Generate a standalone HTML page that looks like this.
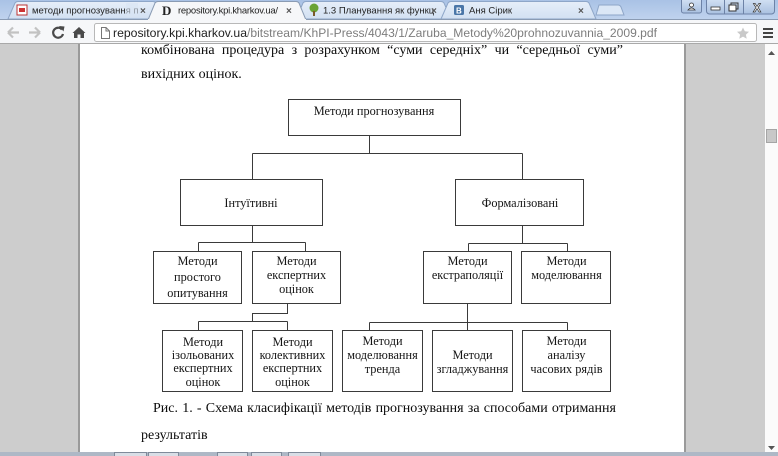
<!DOCTYPE html>
<html><head><meta charset="utf-8">
<style>
html,body{margin:0;padding:0}
body{width:778px;height:456px;overflow:hidden;position:relative;background:#fff;font-family:"Liberation Sans",sans-serif}
svg{position:absolute;left:0;top:0}
.ln{position:absolute;font-family:"Liberation Serif","Noto Serif CJK SC",serif;font-size:14px;line-height:16px;color:#0a0a0a;white-space:nowrap}
.jus{display:flex;justify-content:space-between}
</style></head>
<body>
<svg width="778" height="456" viewBox="0 0 778 456" xmlns="http://www.w3.org/2000/svg">
  <defs>
    <linearGradient id="fr" x1="0" y1="0" x2="0" y2="1">
      <stop offset="0" stop-color="#a9c2e5"/><stop offset="1" stop-color="#c0d3ee"/>
    </linearGradient>
    <linearGradient id="it" x1="0" y1="0" x2="0" y2="1">
      <stop offset="0" stop-color="#e6eef9"/><stop offset="1" stop-color="#d2e0f2"/>
    </linearGradient>
    <linearGradient id="wb" x1="0" y1="0" x2="0" y2="1">
      <stop offset="0" stop-color="#d5e3f5"/><stop offset="1" stop-color="#a9c0e0"/>
    </linearGradient>
  </defs>

  <!-- frame / tab strip -->
  <rect x="0" y="0" width="778" height="20" fill="url(#fr)"/>
  <!-- inactive tabs -->
  <path d="M8 19 L15 3 Q16 1.5 18 1.5 L153 1.5 Q155 1.5 156 3 L163 19 Z" fill="url(#it)" stroke="#8ea6c8"/>
  <path d="M296 19 L303 3 Q304 1.5 306 1.5 L441 1.5 Q443 1.5 444 3 L451 19 Z" fill="url(#it)" stroke="#8ea6c8"/>
  <path d="M441 19 L448 3 Q449 1.5 451 1.5 L586 1.5 Q588 1.5 589 3 L596 19 Z" fill="url(#it)" stroke="#8ea6c8"/>
  <!-- new tab -->
  <path d="M596 15 L599 5 L618 5 Q620 5 621 7 L624 15 Z" fill="#dbe7f6" stroke="#8ea6c8"/>
  <!-- active tab -->
  <path d="M148 20 L155 3 Q156 1.5 158 1.5 L296 1.5 Q298 1.5 299 3 L306 20 Z" fill="#f6f7f9" stroke="#8a9bb3"/>

  <!-- tab icons -->
  <rect x="17" y="5" width="10" height="10" fill="#fff" stroke="#b33"/>
  <rect x="19" y="8" width="6" height="4" fill="#c33"/>
  <text x="162" y="15" font-family="Liberation Serif,serif" font-size="13" font-weight="bold" fill="#222">D</text>
  <circle cx="314" cy="8" r="4.5" fill="#6aa334"/><rect x="313" y="11" width="2" height="5" fill="#7a5a2a"/>
  <rect x="454" y="5" width="10" height="10" rx="1.5" fill="#4a76a8"/>
  <text x="456" y="13.5" font-size="8" font-weight="bold" fill="#fff">B</text>

  <!-- tab labels -->
  <text x="32" y="13.5" font-size="9.5" fill="#222">методи прогнозування п</text>
  <rect x="126" y="3" width="12" height="14" fill="#d8e4f3" opacity="0.6"/>
  <text x="178" y="13.5" font-size="9.5" fill="#222" textLength="100">repository.kpi.kharkov.ua/</text>
  <text x="323" y="13.5" font-size="9.5" fill="#222">1.3 Планування як функц</text>
  <text x="469" y="13.5" font-size="9.5" fill="#222">Аня Сірик</text>
  <g font-size="10" font-weight="bold" fill="#555">
    <text x="140" y="14">×</text><text x="286" y="14">×</text><text x="431" y="14">×</text><text x="578" y="14">×</text>
  </g>

  <!-- window controls -->
  <rect x="681.5" y="-2" width="20" height="15" rx="2" fill="url(#wb)" stroke="#6d82a6"/>
  <circle cx="691.5" cy="5" r="2" fill="#fff" stroke="#333" stroke-width="0.8"/>
  <path d="M688 10 Q691.5 6 695 10 Z" fill="#fff" stroke="#333" stroke-width="0.8"/>
  <rect x="706.5" y="-2" width="68" height="16" rx="3" fill="url(#wb)" stroke="#6d82a6"/>
  <line x1="724.5" y1="0" x2="724.5" y2="14" stroke="#6d82a6"/>
  <line x1="743.5" y1="0" x2="743.5" y2="14" stroke="#6d82a6"/>
  <rect x="711" y="7" width="9" height="3" fill="#fff" stroke="#333" stroke-width="0.8"/>
  <rect x="731" y="3" width="7" height="6" fill="none" stroke="#333" stroke-width="1"/>
  <rect x="729" y="5" width="7" height="6" fill="#fff" stroke="#333" stroke-width="1"/>
  <text x="753" y="12" font-size="12" font-weight="bold" fill="#fff" stroke="#333" stroke-width="0.7">X</text>

  <!-- toolbar -->
  <rect x="0" y="19" width="778" height="25" fill="#f6f7f9"/>
  <line x1="0" y1="19.5" x2="148" y2="19.5" stroke="#8a9bb3"/>
  <line x1="306" y1="19.5" x2="778" y2="19.5" stroke="#8a9bb3"/>
  <line x1="0" y1="43.5" x2="778" y2="43.5" stroke="#a9a9a9"/>
  <!-- nav icons -->
  <path d="M8 32.5 H19 M8 32.5 L13 27.5 M8 32.5 L13 37.5" stroke="#c2c2c2" stroke-width="2.2" fill="none"/>
  <path d="M40 32.5 H29 M40 32.5 L35 27.5 M40 32.5 L35 37.5" stroke="#c2c2c2" stroke-width="2.2" fill="none"/>
  <path d="M62 29.5 A5 5 0 1 0 63 34" stroke="#4a4a4a" stroke-width="2.2" fill="none"/>
  <path d="M59 26 L64.5 26.5 L63.5 31.5 Z" fill="#4a4a4a"/>
  <path d="M72.5 33 L79 27 L85.5 33 L84 33 L84 38 L80.5 38 L80.5 34.5 L77.5 34.5 L77.5 38 L74 38 L74 33 Z" fill="#4a4a4a"/>
  <!-- omnibox -->
  <rect x="94.5" y="23.5" width="662" height="18" rx="2" fill="#fff" stroke="#b8b8b8"/>
  <path d="M101.5 27.5 H106 L109.5 31 V38.5 H101.5 Z M106 27.5 V31 H109.5" fill="#fff" stroke="#777"/>
  <text x="113" y="37" font-size="12.3" fill="#222" textLength="134" lengthAdjust="spacingAndGlyphs">repository.kpi.kharkov.ua</text>
  <text x="247" y="37" font-size="12.3" fill="#7d7d7d" textLength="410" lengthAdjust="spacingAndGlyphs">/bitstream/KhPI-Press/4043/1/Zaruba_Metody%20prohnozuvannia_2009.pdf</text>
  <path d="M743 27.5 L744.8 31.3 L749 31.8 L745.9 34.6 L746.7 38.7 L743 36.6 L739.3 38.7 L740.1 34.6 L737 31.8 L741.2 31.3 Z" fill="#c9c9c9"/>
  <rect x="763" y="28" width="10" height="2" fill="#444"/>
  <rect x="763" y="32" width="10" height="2" fill="#444"/>
  <rect x="763" y="36" width="10" height="2" fill="#444"/>

  <!-- pdf viewer grey sides -->
  <rect x="0" y="44" width="80" height="408" fill="#cdcdcd"/>
  <rect x="78" y="44" width="2" height="408" fill="#9a9a9a"/>
  <rect x="684" y="44" width="81" height="408" fill="#cdcdcd"/>
  <rect x="684" y="44" width="2" height="408" fill="#9a9a9a"/>
  <!-- scrollbar -->
  <rect x="765" y="44" width="13" height="408" fill="#fbfbfb"/>
  <path d="M768 55 L771.5 51 L775 55 Z" fill="#555"/>
  <path d="M768 446 L771.5 450 L775 446 Z" fill="#555"/>
  <rect x="766.5" y="129.5" width="10" height="13" fill="#c8c8c8" stroke="#a5a5a5"/>
  <!-- bottom strip -->
  <rect x="0" y="452" width="778" height="4" fill="#aeb8c6"/>
  <rect x="114.5" y="452.5" width="32" height="6" fill="#d9dee6" stroke="#7f8a9a"/>
  <rect x="148.5" y="452.5" width="30" height="6" fill="#d9dee6" stroke="#7f8a9a"/>
  <rect x="217.5" y="452.5" width="30" height="6" fill="#d9dee6" stroke="#7f8a9a"/>
  <rect x="251.5" y="452.5" width="30" height="6" fill="#d9dee6" stroke="#7f8a9a"/>
  <rect x="288.5" y="452.5" width="32" height="6" fill="#d9dee6" stroke="#7f8a9a"/>

  <!-- diagram -->
  <g fill="none" stroke="#3a3a3a" stroke-width="1" shape-rendering="crispEdges">
    <rect x="288.5" y="99.5" width="172" height="36"/>
    <path d="M369.5 135.5 V153.5 M252.5 153.5 H522.5 M252.5 153.5 V179.5 M522.5 153.5 V179.5"/>
    <rect x="180.5" y="179.5" width="142" height="46"/>
    <rect x="455.5" y="179.5" width="128" height="46"/>
    <path d="M252.5 225.5 V242.5 M198.5 242.5 H305.5 M198.5 242.5 V251.5 M305.5 242.5 V251.5"/>
    <path d="M522.5 225.5 V243.5 M468.5 243.5 H567.5 M468.5 243.5 V251.5 M567.5 243.5 V251.5"/>
    <rect x="153.5" y="251.5" width="88" height="52"/>
    <rect x="252.5" y="251.5" width="88" height="52"/>
    <rect x="423.5" y="251.5" width="88" height="52"/>
    <rect x="521.5" y="251.5" width="89" height="52"/>
    <path d="M287.5 303.5 V313.5 H252.5 V321.5 M198.5 321.5 H287.5 M198.5 321.5 V330.5 M287.5 321.5 V330.5"/>
    <path d="M467.5 303.5 V330.5 M369.5 322.5 H567.5 M369.5 322.5 V330.5 M567.5 322.5 V330.5"/>
    <rect x="162.5" y="330.5" width="80" height="61"/>
    <rect x="252.5" y="330.5" width="80" height="61"/>
    <rect x="342.5" y="330.5" width="80" height="61"/>
    <rect x="432.5" y="330.5" width="80" height="61"/>
    <rect x="522.5" y="330.5" width="88" height="61"/>
  </g>
  <g font-family="Liberation Serif, serif" font-size="12.3" fill="#151515" text-anchor="middle">
    <text x="374" y="115">Методи прогнозування</text>
    <text x="251" y="207">Інтуїтивні</text>
    <text x="520" y="207">Формалізовані</text>
    <text x="197.5" y="265">Методи</text>
    <text x="197.5" y="281">простого</text>
    <text x="197.5" y="297">опитування</text>
    <text x="296.5" y="265">Методи</text>
    <text x="296.5" y="279">експертних</text>
    <text x="296.5" y="293">оцінок</text>
    <text x="467.5" y="265">Методи</text>
    <text x="467.5" y="279">екстраполяції</text>
    <text x="566.5" y="265">Методи</text>
    <text x="566.5" y="279">моделювання</text>
    <text x="203" y="346">Методи</text>
    <text x="203" y="359">ізольованих</text>
    <text x="203" y="372">експертних</text>
    <text x="203" y="386">оцінок</text>
    <text x="292.5" y="346">Методи</text>
    <text x="292.5" y="359">колективних</text>
    <text x="292.5" y="372">експертних</text>
    <text x="292.5" y="386">оцінок</text>
    <text x="382.5" y="345">Методи</text>
    <text x="382.5" y="359">моделювання</text>
    <text x="382.5" y="373">тренда</text>
    <text x="472.5" y="359">Методи</text>
    <text x="472.5" y="373">згладжування</text>
    <text x="566.5" y="345">Методи</text>
    <text x="566.5" y="359">аналізу</text>
    <text x="566.5" y="373">часових рядів</text>
  </g>
</svg>

<div class="ln jus" style="left:141px;top:43px;width:482px"><span>комбінована</span><span>процедура</span><span>з</span><span>розрахунком</span><span>“суми</span><span>середніх”</span><span>чи</span><span>“середньої</span><span>суми”</span></div>
<div class="ln" style="left:141px;top:67px">вихідних оцінок.</div>
<div class="ln jus" style="left:153px;top:401px;width:463px"><span>Рис.</span><span>1.</span><span>-</span><span>Схема</span><span>класифікації</span><span>методів</span><span>прогнозування</span><span>за</span><span>способами</span><span>отримання</span></div>
<div class="ln" style="left:141px;top:428px">результатів</div>
</body></html>
